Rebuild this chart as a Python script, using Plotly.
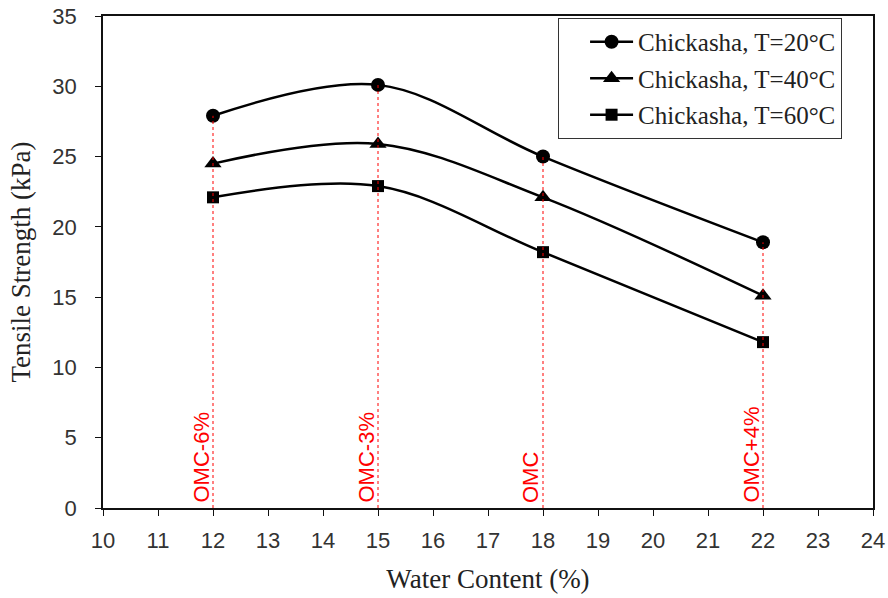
import plotly.graph_objects as go

water = [12, 15, 18, 22]
ts_20 = [27.9, 30.1, 25.0, 18.9]
ts_40 = [24.5, 25.9, 22.1, 15.1]
ts_60 = [22.1, 22.9, 18.2, 11.8]
series_names = ["Chickasha, T=20°C", "Chickasha, T=40°C", "Chickasha, T=60°C"]
symbols = ["circle", "triangle-up", "square"]
msizes = [14, 15, 12]
omc_labels = ["OMC-6%", "OMC-3%", "OMC", "OMC+4%"]
x_ticks = list(range(10, 25))
y_ticks = list(range(0, 36, 5))

fig = go.Figure()
for i, (name, ys, sym, ms) in enumerate(zip(series_names, [ts_20, ts_40, ts_60], symbols, msizes)):
    fig.add_trace(go.Scatter(
        x=water, y=ys, name=name, mode="lines+markers", legendgroup=f"g{i}",
        line=dict(color="black", width=2.5, shape="spline", smoothing=1.0),
        marker=dict(symbol=sym, size=ms, color="black"),
    ))

tops = [max(a, b, c) for a, b, c in zip(ts_20, ts_40, ts_60)]
for xv, top, lab in zip(water, tops, omc_labels):
    fig.add_shape(type="line", x0=xv, x1=xv, y0=0, y1=top, xref="x", yref="y",
                  line=dict(color="red", width=1, dash="dot"), layer="above")
    fig.add_annotation(x=xv, y=0, xref="x", yref="y", text=lab, textangle=-90,
                       showarrow=False, xanchor="right", yanchor="bottom",
                       xshift=2, yshift=3,
                       font=dict(family="Liberation Sans", size=22, color="red"))

axis_font = dict(family="Liberation Sans", size=22, color="#333")
title_font = dict(family="Liberation Serif", size=27, color="#222")

fig.update_layout(
    width=888, height=598,
    margin=dict(l=103, r=15, t=16, b=90),
    paper_bgcolor="white", plot_bgcolor="white",
    font=dict(family="Liberation Sans", color="#222"),
    legend=dict(x=0.591, y=0.996, xanchor="left", yanchor="top",
                bordercolor="#333", borderwidth=1, bgcolor="white",
                font=dict(family="Liberation Serif", size=25, color="#222"),
                tracegroupgap=1, itemwidth=43, indentation=26),
    xaxis=dict(range=[10, 24], tickvals=x_ticks, showgrid=False, zeroline=False,
               showline=True, linecolor="#111", linewidth=1.5, mirror=True,
               ticks="outside", ticklen=6, tickcolor="#111", ticklabelstandoff=6,
               tickfont=axis_font, automargin=False,
               title=dict(text="Water Content (%)", standoff=17, font=title_font)),
    yaxis=dict(range=[0, 35], tickvals=y_ticks, showgrid=False, zeroline=False,
               showline=True, linecolor="#111", linewidth=1.5, mirror=True,
               ticks="outside", ticklen=6, tickcolor="#111", ticklabelstandoff=14,
               tickfont=axis_font, automargin=False,
               title=dict(text="Tensile Strength (kPa)", standoff=14, font=title_font)),
)

fig.write_html("out.html")
